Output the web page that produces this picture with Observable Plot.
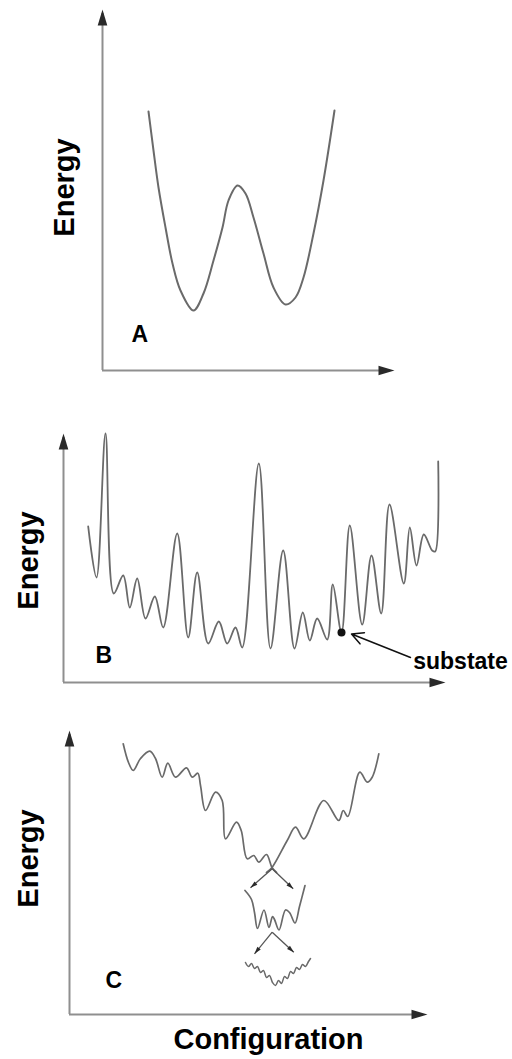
<!DOCTYPE html>
<html><head><meta charset="utf-8">
<script src="https://cdn.jsdelivr.net/npm/d3@7"></script>
<script src="https://cdn.jsdelivr.net/npm/@observablehq/plot@0.6"></script>
<style>
html,body{margin:0;padding:0;background:#fff;}
#chart svg{display:block;}
</style></head><body><div id="chart"></div>
<script>
// ---------- Panel A: double-well energy landscape ----------
const aConfig = [46,51,56,63,70,78,91,101,111,120,126,135,143,151,161,171,183,193,201,211,221,232];
const aEnergy = [259,220,183,143,107,80,60,77,110,143,170,185,177,153,117,83,66,73,93,137,190,260];

// ---------- Panel B: rugged landscape ----------
const bConfig = [24.7,33,42,50.3,59.7,66.3,73.7,82,91.3,99.7,113.7,124.7,133.7,144.7,155.3,163.7,172,178.7,195.3,207,219.7,231,239.3,246.3,253.7,263.7,269.3,278,286.3,298.7,308,317.7,326,340.3,346.3,353,360.3,368.7,371.7,374.7];
const bEnergy = [156,105,249,89,107,75,104,64,86,55,149,45,110,39,61,39,55,35,219,34,132,34,70,42,64,43,98,50,157,58,127,69,178,99,155,117,148,132,131,221];
const substate = [{config: 278, energy: 50}];

// ---------- Panel C: hierarchical (funnel) landscape ----------
const cLeftConfig = [53.7,59,63.7,71,80.3,86,92.7,98.3,106,117,122.7,128.3,131,136,146,152.7,156,167,171.7,177.7,184.3,189.3,197,202.5,207];
const cLeftEnergy = [270.7,252,244,256,263.3,256,237.3,251.3,237.3,246.7,237.3,241.3,229,204,222.3,214,175.7,192.3,184,155.7,159,152.3,160,147,142];
const cRightConfig = [197,202.5,217.7,226,234.3,254.3,269.3,273.7,278.3,290.3,297.7,302.7,309.3];
const cRightEnergy = [142,147,174,187.3,175.7,214,194,204,198,242.3,232.3,237.3,260.7];
const cMidConfig = [175.5,182,185,188,194.5,199.5,203,205,209.5,216,220,225.5,230,235.5];
const cMidEnergy = [124,115,102,86,104.5,87,98,95,84.5,104.5,102,91.5,108,129];
const cLowConfig = [176,179,182,185,188,191,194,197,200,203,206,209,212,215,218,221,224,227,230,233,236,239,241];
const cLowEnergy = [52,48,51,46,48,42,44,37,39,32,29,34,31,38,36,43,41,47,45,50,48,53,56];
const cArrows = [
  {x1: 202.7, y1: 145.7, x2: 181, y2: 126.7},
  {x1: 202.7, y1: 145.7, x2: 223.7, y2: 125.7},
  {x1: 202.7, y1: 82.3, x2: 185, y2: 60.7},
  {x1: 202.7, y1: 82.3, x2: 224.3, y2: 62.3}
];

const FONT = "'Liberation Sans', Arial, Helvetica, sans-serif";
const AXIS = "#8f8f8f", CURVE = "#6a6a6a", HEAD = "#2a2a2a";

const headSymbol = {
  draw(ctx, size) {
    const r = Math.sqrt(size / Math.PI);
    ctx.moveTo(0, 0);
    ctx.lineTo(-0.6 * r, 2 * r);
    ctx.lineTo(0.6 * r, 2 * r);
    ctx.closePath();
  }
};

const zipPts = (xs, ys) => xs.map((x, i) => ({x, y: ys[i]}));

function axesMarks(xMax, yMax) {
  return [
    Plot.ruleY([0], {x1: 0, x2: xMax - 4, stroke: AXIS, strokeWidth: 2}),
    Plot.ruleX([0], {y1: 0, y2: yMax - 4, stroke: AXIS, strokeWidth: 2}),
    Plot.dot([{x: xMax, y: 0, r: 90}, {x: 0, y: yMax, r: 0}], {
      x: "x", y: "y", rotate: "r", symbol: headSymbol, r: 8, fill: HEAD, stroke: "none"
    })
  ];
}

function energyLabel(x, y) {
  return Plot.text(["Energy"], {x, y, rotate: -90, text: d => d, fontSize: 29, fontWeight: "bold",
    fill: "#000", textAnchor: "middle", lineAnchor: "middle"});
}

function letter(t, x, y) {
  return Plot.text([t], {x, y, text: d => d, fontSize: 23, fontWeight: "bold", fill: "#000",
    textAnchor: "start", lineAnchor: "bottom"});
}

function panel({height, mt, mb, ml, mr, xMax, yMax, marks}) {
  return Plot.plot({
    width: 512, height,
    marginTop: mt, marginBottom: mb, marginLeft: ml, marginRight: mr,
    x: {domain: [0, xMax], axis: null},
    y: {domain: [0, yMax], axis: null},
    style: {fontFamily: FONT, background: "#fff", overflow: "visible"},
    marks
  });
}

const chart = document.getElementById("chart");

// Panel A
chart.append(panel({
  height: 395, mt: 9, mb: 25, ml: 102, mr: 118, xMax: 292, yMax: 361,
  marks: [
    ...axesMarks(292, 361),
    Plot.line(zipPts(aConfig, aEnergy), {x: "x", y: "y", curve: "catmull-rom", stroke: CURVE, strokeWidth: 2}),
    energyLabel(-38, 183),
    letter("A", 29, 29)
  ]
}));

// Panel B
chart.append(panel({
  height: 310, mt: 38, mb: 23, ml: 63, mr: 67, xMax: 382, yMax: 249,
  marks: [
    ...axesMarks(382, 249),
    Plot.line(zipPts(bConfig, bEnergy), {x: "x", y: "y", curve: "catmull-rom", stroke: CURVE, strokeWidth: 1.8}),
    Plot.dot(substate, {x: "config", y: "energy", r: 4, fill: "#111", stroke: "none"}),
    Plot.arrow(substate, {x1: 347, y1: 25, x2: d => d.config + 10, y2: d => d.energy - 1.5,
      stroke: "#111", strokeWidth: 1.5, headLength: 13, headAngle: 55}),
    Plot.text(["substate"], {x: 349.7, y: 14, text: d => d, fontSize: 23, fontWeight: "bold", fill: "#000",
      textAnchor: "start", lineAnchor: "bottom"}),
    energyLabel(-35, 122),
    letter("B", 32, 20)
  ]
}));

// Panel C
const headRot = d => Math.atan2(d.x2 - d.x1, d.y2 - d.y1) * 180 / Math.PI;
chart.append(panel({
  height: 354, mt: 25, mb: 45, ml: 69, mr: 85, xMax: 358, yMax: 284,
  marks: [
    ...axesMarks(358, 284),
    Plot.line(zipPts(cLeftConfig, cLeftEnergy), {x: "x", y: "y", curve: "catmull-rom", stroke: CURVE, strokeWidth: 1.7}),
    Plot.line(zipPts(cRightConfig, cRightEnergy), {x: "x", y: "y", curve: "catmull-rom", stroke: CURVE, strokeWidth: 1.7}),
    Plot.line(zipPts(cMidConfig, cMidEnergy), {x: "x", y: "y", curve: "catmull-rom", stroke: CURVE, strokeWidth: 1.7}),
    Plot.line(zipPts(cLowConfig, cLowEnergy), {x: "x", y: "y", curve: "catmull-rom", stroke: CURVE, strokeWidth: 1.5}),
    Plot.link(cArrows, {x1: "x1", y1: "y1", x2: "x2", y2: "y2", stroke: "#555", strokeWidth: 1.3}),
    Plot.dot(cArrows, {x: "x2", y: "y2", rotate: headRot, symbol: headSymbol, r: 3.6, fill: HEAD, stroke: "none"}),
    energyLabel(-41, 156),
    letter("C", 36, 27),
    Plot.text(["Configuration"], {x: 199, y: -34, text: d => d, fontSize: 29, fontWeight: "bold", fill: "#000",
      textAnchor: "middle", lineAnchor: "bottom"})
  ]
}));
</script></body></html>
